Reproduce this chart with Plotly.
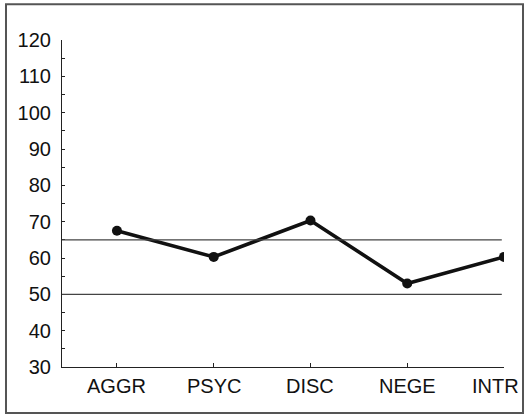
import plotly.graph_objects as go

categories = ["AGGR", "PSYC", "DISC", "NEGE", "INTR"]
values = [67.5, 60.3, 70.3, 53.0, 60.3]
ref_lines = [65, 50]
y_ticks = [30, 40, 50, 60, 70, 80, 90, 100, 110, 120]

fig = go.Figure()
fig.add_trace(go.Scatter(
    x=categories, y=values, mode="lines+markers",
    line=dict(color="#111111", width=3.6),
    marker=dict(color="#111111", size=10),
    showlegend=False, hoverinfo="skip",
))

shapes = []
for v in ref_lines:
    shapes.append(dict(type="line", xref="paper", yref="y", x0=0, x1=0.995, y0=v, y1=v,
                       line=dict(color="#444444", width=1.2)))
shapes.append(dict(type="rect", xref="paper", yref="paper",
                   x0=-0.1267, x1=1.043, y0=-0.1407, y1=1.109,
                   line=dict(color="#555555", width=2)))

# category labels as annotations so the last one can sit inside the frame
annotations = []
for i, c in enumerate(categories):
    annotations.append(dict(x=c, xref="x", y=0, yref="paper", text=c, showarrow=False,
                            yanchor="top", xanchor="center", yshift=-6,
                            xshift=-9 if i == len(categories) - 1 else 0,
                            font=dict(size=20, color="#111111")))

fig.update_layout(
    width=527, height=416,
    margin=dict(l=62, r=23, t=40, b=49, autoexpand=False),
    paper_bgcolor="white", plot_bgcolor="white",
    font=dict(family="Liberation Sans, Arial, sans-serif", size=20, color="#111111"),
    shapes=shapes, annotations=annotations,
    xaxis=dict(type="category", range=[-0.568, 4], showgrid=False, zeroline=False,
               tickvals=categories, showticklabels=False,
               showline=True, linecolor="#222222", linewidth=1.2,
               ticks="inside", ticklen=4, tickcolor="#222222", tickwidth=1,
               automargin=False),
    yaxis=dict(range=[30, 120], tickvals=y_ticks, showgrid=False, zeroline=False,
               showline=True, linecolor="#222222", linewidth=1.2,
               ticks="inside", ticklen=3, tickcolor="#222222", tickwidth=1,
               minor=dict(dtick=5, tick0=0, ticks="inside", ticklen=3, tickcolor="#222222", showgrid=False),
               ticklabelstandoff=6, automargin=False),
)

fig.write_html("out.html", config={"displayModeBar": False},
               post_script="document.body.style.margin='0';document.body.style.overflow='hidden';")
